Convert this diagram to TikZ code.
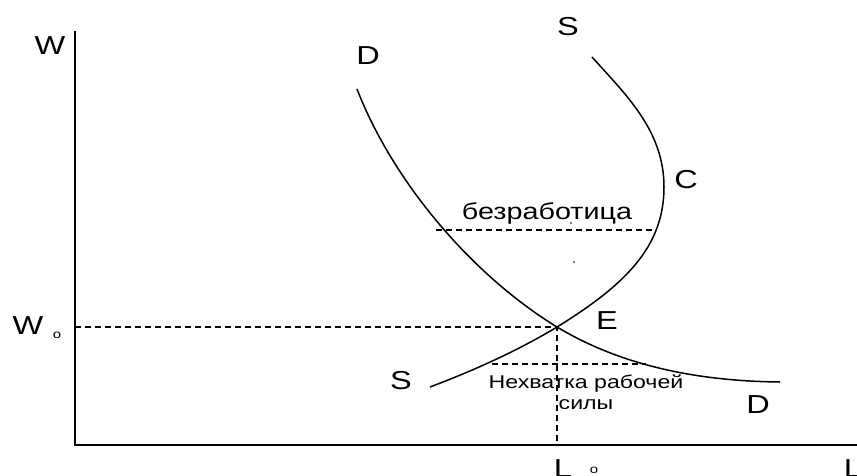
\documentclass[tikz,border=0pt]{standalone}
\usepackage{fontspec}
\setmainfont{Liberation Sans}[FakeStretch=1.25]
\usepackage{tikz}

\begin{document}
\begin{tikzpicture}[x=1pt,y=-1pt,
  axis/.style={line width=2.8pt},
  curve/.style={line width=1.5pt},
  guide/.style={line width=1.2pt,dash pattern=on 6pt off 4pt},
  big/.style={font=\fontsize{26}{28}\selectfont},
  mid/.style={font=\fontsize{23}{25}\selectfont},
  small/.style={font=\fontsize{18.5}{21}\selectfont,align=center}]
\useasboundingbox (0,0) rectangle (857,475);
% axes
\coordinate (origin) at (75,445);
\coordinate (wtop) at (75,31);
\coordinate (lend) at (860,445);
\draw[axis] (wtop) -- (origin) -- (lend);
% equilibrium and guide points
\coordinate (E) at (557,327);
\coordinate (w0) at (75,327);
\coordinate (l0) at (557,445);
\coordinate (uleft) at (436,230);
\coordinate (uright) at (656,230);
\coordinate (sleft) at (492,364);
\coordinate (sright) at (646,364);
\coordinate (Ctop) at (664,187);
% dashed guides
\draw[guide] (w0) -- (E) -- (l0);
\draw[guide] (uleft) -- (uright);
\draw[guide] (sleft) -- (sright);
% demand curve
\draw[curve] (357,89) .. controls (393,182) and (472,275) .. (E)
  .. controls (617,363) and (690,381) .. (780,382);
% supply curve
\draw[curve] (430,387) .. controls (475,370) and (519,350) .. (E)
  .. controls (625,285) and (664,247) .. (Ctop)
  .. controls (664,130) and (625,94) .. (592,57);
% stray dots
\fill (571,223) circle (0.9pt);
\fill (574,262) circle (0.9pt);
% labels
\node[big] (wlab) at (50,46) {W};
\node[big] (w0lab) at (28,326) {W};
\node[font=\fontsize{12}{13}\selectfont] (w0sub) at (57,335) {o};
\node[big] (dtop) at (368,56) {D};
\node[big] (stop) at (568,27) {S};
\node[big] (clab) at (686,180) {C};
\node[big] (elab) at (607,321) {E};
\node[big] (sbot) at (401,381) {S};
\node[big] (dbot) at (758,405) {D};
\node[big,anchor=north] (l0lab) at (563,456) {L};
\node[font=\fontsize{12}{13}\selectfont,anchor=north] (l0sub) at (594,464) {o};
\node[big,anchor=north] (llab) at (853,456) {L};
\node[mid] (unemp) at (547,213) {безработица};
\node[small] (short) at (586,392) {Нехватка рабочей\\силы};
\end{tikzpicture}
\end{document}
